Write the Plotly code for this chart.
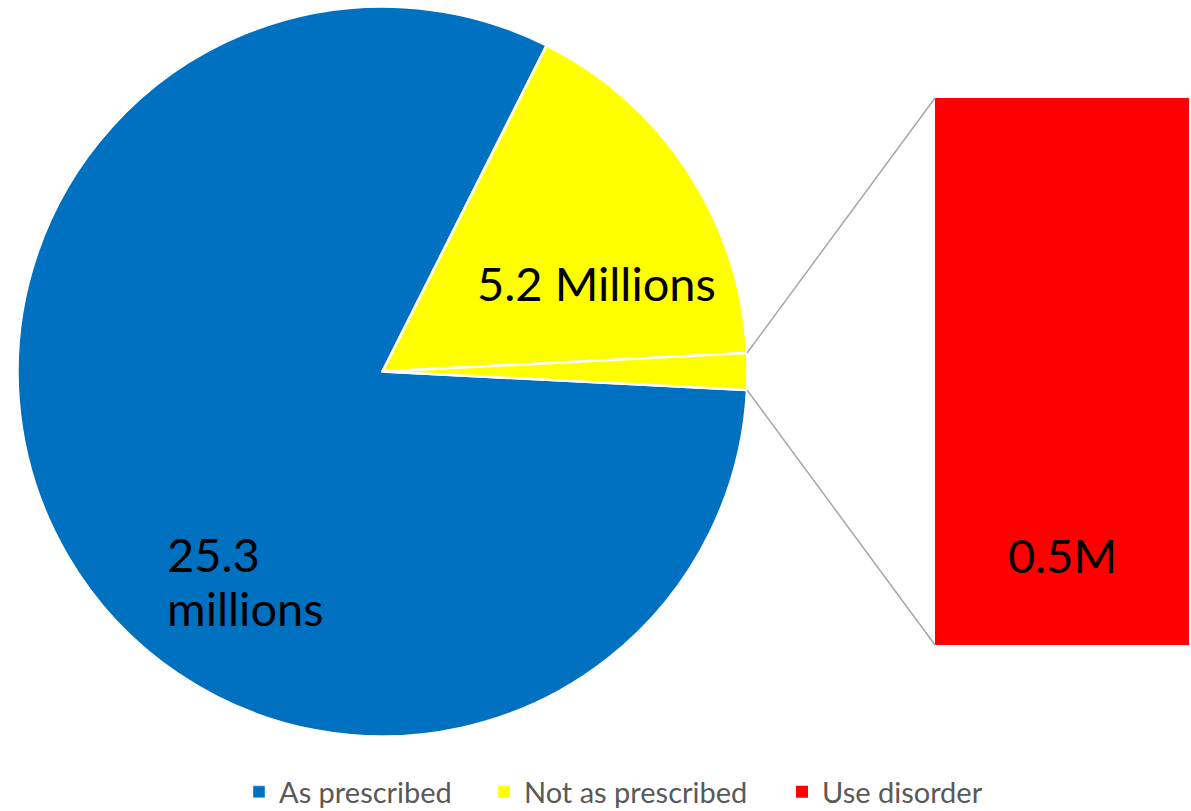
import math
import plotly.graph_objects as go

W, H = 1191, 811

# Pie slices (millions); the last slice is broken out into the bar
pie_labels = ["As prescribed", "Not as prescribed", "Use disorder"]
pie_values = [25.3, 5.2, 0.5]
pie_colors = ["#0070C0", "#FFFF00", "#FFFF00"]

# Bar (breakout of the small slice)
bar_label = "Use disorder"
bar_value = 0.5

legend_labels = ["As prescribed", "Not as prescribed", "Use disorder"]
legend_colors = ["#0070C0", "#FFFF00", "#FF0000"]

FONT = "Lato"

# Pie geometry in pixels
cx, cy, R = 382.5, 371.5, 365.0
pie_dom_x = [(cx - R) / W, (cx + R) / W]
pie_dom_y = [(H - cy - R) / H, (H - cy + R) / H]

# Bar geometry in pixels
bx0, bx1, by0, by1 = 935, 1189, 98, 645

total = sum(pie_values)
# first slice starts just below 3 o'clock, slices run clockwise
small_half = pie_values[2] / total * 360 / 2
rotation = 90 + small_half  # degrees clockwise from 12 o'clock

fig = go.Figure()

fig.add_trace(go.Pie(
    labels=pie_labels, values=pie_values, sort=False,
    direction="clockwise", rotation=rotation,
    marker=dict(colors=pie_colors, line=dict(color="white", width=2.5)),
    textinfo="none", hoverinfo="label+value",
    domain=dict(x=pie_dom_x, y=pie_dom_y), showlegend=False,
))

# Legend-only entries for the pie colours, each in its own legend box
legend_ids = ["legend", "legend2", "legend3"]
for lab, col, lid in zip(legend_labels[:2], legend_colors[:2], legend_ids[:2]):
    fig.add_trace(go.Bar(x=[None], y=[None], name=lab, marker_color=col,
                         legend=lid, showlegend=True))

fig.add_trace(go.Bar(
    x=[bar_label], y=[bar_value], name=bar_label,
    marker=dict(color=legend_colors[2], line=dict(width=0)),
    width=[1.0], showlegend=True, legend=legend_ids[2],
))

# left edge (px) of each legend box
legend_x_px = [239, 484, 782]
legend_y = (H - 792) / H
legend_common = dict(orientation="h", yanchor="middle", xanchor="left",
                     font=dict(size=29, color="#595959", family=FONT),
                     bgcolor="rgba(0,0,0,0)", borderwidth=0)

fig.update_layout(
    width=W, height=H,
    margin=dict(l=0, r=0, t=0, b=0, autoexpand=False),
    paper_bgcolor="white", plot_bgcolor="white",
    font=dict(family=FONT, color="#000000"),
    barmode="overlay", bargap=0,
    xaxis=dict(domain=[bx0 / W, bx1 / W], visible=False, range=[-0.5, 0.5],
               type="category", fixedrange=True),
    yaxis=dict(domain=[(H - by1) / H, (H - by0) / H], visible=False,
               range=[0, bar_value], fixedrange=True),
    legend=dict(x=legend_x_px[0] / W, y=legend_y, **legend_common),
    legend2=dict(x=legend_x_px[1] / W, y=legend_y, **legend_common),
    legend3=dict(x=legend_x_px[2] / W, y=legend_y, **legend_common),
)

# Connector lines from the small slice edges to the bar corners
a_top = math.radians(small_half)
a_bot = math.radians(-small_half)
p_top = (cx + R * math.cos(a_top), cy - R * math.sin(a_top))
p_bot = (cx + R * math.cos(a_bot), cy - R * math.sin(a_bot))
for (px, py), (qx, qy) in [(p_top, (bx0, by0)), (p_bot, (bx0, by1))]:
    fig.add_shape(type="line", xref="paper", yref="paper",
                  x0=px / W, y0=(H - py) / H, x1=qx / W, y1=(H - qy) / H,
                  line=dict(color="#A6A6A6", width=1.5))

# Value labels
LABEL_SIZE = 47
fig.add_annotation(x=596 / W, y=(H - 283) / H, xref="paper", yref="paper",
                   text=f"{pie_values[1]} Millions", showarrow=False,
                   xanchor="center", yanchor="middle",
                   font=dict(size=LABEL_SIZE, color="black"))
fig.add_annotation(x=165 / W, y=(H - 554) / H, xref="paper", yref="paper",
                   text=f"{pie_values[0]}", showarrow=False,
                   xanchor="left", yanchor="middle",
                   font=dict(size=LABEL_SIZE, color="black"))
fig.add_annotation(x=165 / W, y=(H - 608) / H, xref="paper", yref="paper",
                   text="millions", showarrow=False,
                   xanchor="left", yanchor="middle",
                   font=dict(size=LABEL_SIZE, color="black"))
fig.add_annotation(x=bar_label, y=bar_value * 0.165, xref="x", yref="y",
                   text=f"{bar_value}M", showarrow=False,
                   xanchor="center", yanchor="middle",
                   font=dict(size=LABEL_SIZE, color="black"))

fig.write_html("out.html")
